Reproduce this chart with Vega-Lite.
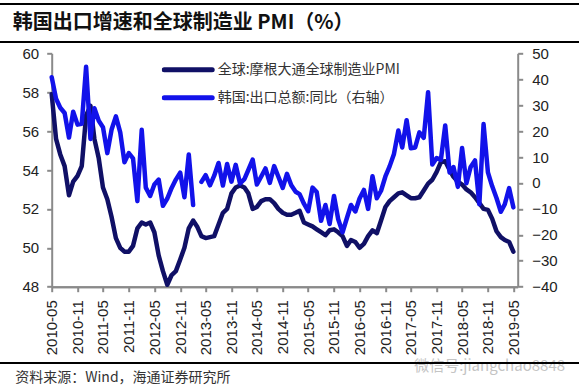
{
  "$schema": "https://vega.github.io/schema/vega-lite/v6.json",
  "width": 466,
  "height": 233.4,
  "autosize": {"type": "none"},
  "padding": {"left": 51.7, "top": 53.3, "right": 61.3, "bottom": 103.3},
  "background": "white",
  "config": {"view": {"stroke": null}, "axis": {"grid": false, "labelFont": "Liberation Sans"}},
  "title": {"text": "韩国出口增速和全球制造业 PMI（%）", "anchor": "start", "frame": "group", "dx": -39, "dy": 30, "offset": 0, "font": "Noto Sans CJK SC", "fontSize": 20, "fontWeight": "bold", "color": "#111111"},
  "data": {"values": [
    {"date": "2010-05-01", "pmi": 57.9, "exp": 40.8},
    {"date": "2010-06-01", "pmi": 55.6, "exp": 32.5},
    {"date": "2010-07-01", "pmi": 54.8, "exp": 29.0},
    {"date": "2010-08-01", "pmi": 54.2, "exp": 27.0},
    {"date": "2010-09-01", "pmi": 52.7, "exp": 17.5},
    {"date": "2010-10-01", "pmi": 53.4, "exp": 27.5},
    {"date": "2010-11-01", "pmi": 53.7, "exp": 22.5},
    {"date": "2010-12-01", "pmi": 54.2, "exp": 22.8},
    {"date": "2011-01-01", "pmi": 56.8, "exp": 44.8},
    {"date": "2011-02-01", "pmi": 57.3, "exp": 17.0},
    {"date": "2011-03-01", "pmi": 55.6, "exp": 28.8},
    {"date": "2011-04-01", "pmi": 54.6, "exp": 24.0},
    {"date": "2011-05-01", "pmi": 53.1, "exp": 21.5},
    {"date": "2011-06-01", "pmi": 52.5, "exp": 11.5},
    {"date": "2011-07-01", "pmi": 51.6, "exp": 20.5},
    {"date": "2011-08-01", "pmi": 50.5, "exp": 25.7},
    {"date": "2011-09-01", "pmi": 50.0, "exp": 19.5},
    {"date": "2011-10-01", "pmi": 49.8, "exp": 8.0},
    {"date": "2011-11-01", "pmi": 49.8, "exp": 11.5},
    {"date": "2011-12-01", "pmi": 50.1, "exp": 9.5},
    {"date": "2012-01-01", "pmi": 51.0, "exp": -7.0},
    {"date": "2012-02-01", "pmi": 51.3, "exp": 20.5},
    {"date": "2012-03-01", "pmi": 51.2, "exp": -1.8},
    {"date": "2012-04-01", "pmi": 51.3, "exp": -5.0},
    {"date": "2012-05-01", "pmi": 50.8, "exp": -0.6},
    {"date": "2012-06-01", "pmi": 49.6, "exp": 1.3},
    {"date": "2012-07-01", "pmi": 48.8, "exp": -8.8},
    {"date": "2012-08-01", "pmi": 48.1, "exp": -6.0},
    {"date": "2012-09-01", "pmi": 48.6, "exp": -1.9},
    {"date": "2012-10-01", "pmi": 48.8, "exp": 1.3},
    {"date": "2012-11-01", "pmi": 49.4, "exp": 4.0},
    {"date": "2012-12-01", "pmi": 50.0, "exp": -5.5},
    {"date": "2013-01-01", "pmi": 51.0, "exp": 11.0},
    {"date": "2013-02-01", "pmi": 51.4, "exp": -8.5},
    {"date": "2013-03-01", "pmi": 51.1, "exp": null},
    {"date": "2013-04-01", "pmi": 50.6, "exp": 0.4},
    {"date": "2013-05-01", "pmi": 50.5, "exp": 3.0},
    {"date": "2013-06-01", "pmi": 50.55, "exp": -0.9},
    {"date": "2013-07-01", "pmi": 50.6, "exp": 2.8},
    {"date": "2013-08-01", "pmi": 51.2, "exp": 7.7},
    {"date": "2013-09-01", "pmi": 51.8, "exp": -1.0},
    {"date": "2013-10-01", "pmi": 52.0, "exp": 7.3},
    {"date": "2013-11-01", "pmi": 52.8, "exp": 0.5},
    {"date": "2013-12-01", "pmi": 53.1, "exp": 7.0},
    {"date": "2014-01-01", "pmi": 53.2, "exp": -0.2},
    {"date": "2014-02-01", "pmi": 53.1, "exp": 1.5},
    {"date": "2014-03-01", "pmi": 52.8, "exp": 5.0},
    {"date": "2014-04-01", "pmi": 52.0, "exp": 9.0},
    {"date": "2014-05-01", "pmi": 52.1, "exp": -0.6},
    {"date": "2014-06-01", "pmi": 52.4, "exp": 2.5},
    {"date": "2014-07-01", "pmi": 52.5, "exp": 5.6},
    {"date": "2014-08-01", "pmi": 52.5, "exp": 0.0},
    {"date": "2014-09-01", "pmi": 52.3, "exp": 6.5},
    {"date": "2014-10-01", "pmi": 52.0, "exp": 2.4},
    {"date": "2014-11-01", "pmi": 51.8, "exp": -1.9},
    {"date": "2014-12-01", "pmi": 51.7, "exp": 3.5},
    {"date": "2015-01-01", "pmi": 51.7, "exp": -0.9},
    {"date": "2015-02-01", "pmi": 51.8, "exp": -3.4},
    {"date": "2015-03-01", "pmi": 51.9, "exp": -4.3},
    {"date": "2015-04-01", "pmi": 51.3, "exp": -8.0},
    {"date": "2015-05-01", "pmi": 51.2, "exp": -10.9},
    {"date": "2015-06-01", "pmi": 51.1, "exp": -1.8},
    {"date": "2015-07-01", "pmi": 50.95, "exp": -3.5},
    {"date": "2015-08-01", "pmi": 50.8, "exp": -14.6},
    {"date": "2015-09-01", "pmi": 50.65, "exp": -8.5},
    {"date": "2015-10-01", "pmi": 50.9, "exp": -15.8},
    {"date": "2015-11-01", "pmi": 50.95, "exp": -5.0},
    {"date": "2015-12-01", "pmi": 50.8, "exp": -14.0},
    {"date": "2016-01-01", "pmi": 50.6, "exp": -19.0},
    {"date": "2016-02-01", "pmi": 50.1, "exp": -13.5},
    {"date": "2016-03-01", "pmi": 50.4, "exp": -8.5},
    {"date": "2016-04-01", "pmi": 50.3, "exp": -11.0},
    {"date": "2016-05-01", "pmi": 50.0, "exp": -6.0},
    {"date": "2016-06-01", "pmi": 50.2, "exp": -2.7},
    {"date": "2016-07-01", "pmi": 50.6, "exp": -10.0},
    {"date": "2016-08-01", "pmi": 50.9, "exp": 2.6},
    {"date": "2016-09-01", "pmi": 50.75, "exp": -5.9},
    {"date": "2016-10-01", "pmi": 51.4, "exp": -3.0},
    {"date": "2016-11-01", "pmi": 52.1, "exp": 2.5},
    {"date": "2016-12-01", "pmi": 52.4, "exp": 6.4},
    {"date": "2017-01-01", "pmi": 52.6, "exp": 11.2},
    {"date": "2017-02-01", "pmi": 52.8, "exp": 20.2},
    {"date": "2017-03-01", "pmi": 52.85, "exp": 13.7},
    {"date": "2017-04-01", "pmi": 52.7, "exp": 24.2},
    {"date": "2017-05-01", "pmi": 52.55, "exp": 13.4},
    {"date": "2017-06-01", "pmi": 52.55, "exp": 13.7},
    {"date": "2017-07-01", "pmi": 52.6, "exp": 19.5},
    {"date": "2017-08-01", "pmi": 52.95, "exp": 17.4},
    {"date": "2017-09-01", "pmi": 53.3, "exp": 35.0},
    {"date": "2017-10-01", "pmi": 53.5, "exp": 7.1},
    {"date": "2017-11-01", "pmi": 53.9, "exp": 9.6},
    {"date": "2017-12-01", "pmi": 54.4, "exp": 8.9},
    {"date": "2018-01-01", "pmi": 54.45, "exp": 22.2},
    {"date": "2018-02-01", "pmi": 54.0, "exp": 4.0},
    {"date": "2018-03-01", "pmi": 53.65, "exp": 6.1},
    {"date": "2018-04-01", "pmi": 53.4, "exp": -1.5},
    {"date": "2018-05-01", "pmi": 53.25, "exp": 13.5},
    {"date": "2018-06-01", "pmi": 53.0, "exp": -0.1},
    {"date": "2018-07-01", "pmi": 52.85, "exp": 6.2},
    {"date": "2018-08-01", "pmi": 52.6, "exp": 8.7},
    {"date": "2018-09-01", "pmi": 52.3, "exp": -8.2},
    {"date": "2018-10-01", "pmi": 52.0, "exp": 22.7},
    {"date": "2018-11-01", "pmi": 51.95, "exp": 4.1},
    {"date": "2018-12-01", "pmi": 51.5, "exp": -1.2},
    {"date": "2019-01-01", "pmi": 50.85, "exp": -5.8},
    {"date": "2019-02-01", "pmi": 50.55, "exp": -11.1},
    {"date": "2019-03-01", "pmi": 50.4, "exp": -8.2},
    {"date": "2019-04-01", "pmi": 50.3, "exp": -2.0},
    {"date": "2019-05-01", "pmi": 49.8, "exp": -9.4}
  ]},
  "layer": [
    {
      "mark": {"type": "line", "strokeWidth": 4.5, "strokeJoin": "round", "strokeCap": "round"},
      "encoding": {
        "x": {
          "field": "date", "type": "temporal",
          "scale": {"type": "utc", "domain": [{"year": 2010, "month": 5, "date": 1, "utc": true}, {"year": 2019, "month": 6, "date": 1, "utc": true}]},
          "axis": {
            "orient": "bottom",
            "values": [
              {"year": 2010, "month": 5, "date": 1, "utc": true}, {"year": 2011, "month": 5, "date": 1, "utc": true},
              {"year": 2012, "month": 5, "date": 1, "utc": true}, {"year": 2013, "month": 5, "date": 1, "utc": true},
              {"year": 2014, "month": 5, "date": 1, "utc": true}, {"year": 2015, "month": 5, "date": 1, "utc": true},
              {"year": 2016, "month": 5, "date": 1, "utc": true}, {"year": 2017, "month": 5, "date": 1, "utc": true},
              {"year": 2018, "month": 5, "date": 1, "utc": true}, {"year": 2019, "month": 5, "date": 1, "utc": true}
            ],
            "format": "%Y-%m", "labelAngle": 270, "labelAlign": "right", "labelBaseline": "middle",
            "labelFontSize": 15, "labelColor": "#222222", "labelPadding": 8, "labelOverlap": false, "labelFlush": false,
            "tickSize": 5, "tickWidth": 2, "tickColor": "#8a8a8a", "domainColor": "#8a8a8a", "domainWidth": 2,
            "title": "资料来源：Wind，海通证券研究所", "titleFont": "Noto Sans CJK SC", "titleFontSize": 14, "titleFontWeight": "normal",
            "titleColor": "#333333", "titleAnchor": "start", "titleAlign": "left", "titleBaseline": "middle", "titleX": -37, "titleY": 91
          }
        },
        "y": {
          "field": "pmi", "type": "quantitative",
          "scale": {"domain": [48, 60], "nice": false, "zero": false},
          "axis": {"orient": "left", "values": [48, 50, 52, 54, 56, 58, 60], "labelFontSize": 15, "labelColor": "#222222", "labelPadding": 8,
                   "tickSize": 5, "tickWidth": 2, "tickColor": "#8a8a8a", "domainColor": "#8a8a8a", "domainWidth": 2, "title": null}
        },
        "color": {
          "datum": "全球:摩根大通全球制造业PMI", "type": "nominal",
          "scale": {"domain": ["全球:摩根大通全球制造业PMI", "韩国:出口总额:同比（右轴）"], "range": ["#101066", "#1212ea"]},
          "legend": {
            "orient": "none", "legendX": 110, "legendY": 9.5, "title": null, "padding": 0,
            "symbolType": "stroke", "symbolSize": 2304, "symbolStrokeWidth": 5, "clipHeight": 14, "rowPadding": 14, "labelOffset": 3,
            "labelFont": "Noto Sans CJK SC", "labelFontSize": 14, "labelColor": "#333333", "labelLimit": 400,
            "encode": {"symbols": {"update": {"strokeCap": {"value": "round"}}}}
          }
        }
      }
    },
    {
      "mark": {"type": "line", "strokeWidth": 4.5, "strokeJoin": "round", "strokeCap": "round", "invalid": "break-paths-show-domains"},
      "encoding": {
        "x": {
          "field": "date", "type": "temporal",
          "axis": {
            "orient": "bottom",
            "values": [
              {"year": 2010, "month": 11, "date": 1, "utc": true}, {"year": 2011, "month": 11, "date": 1, "utc": true},
              {"year": 2012, "month": 11, "date": 1, "utc": true}, {"year": 2013, "month": 11, "date": 1, "utc": true},
              {"year": 2014, "month": 11, "date": 1, "utc": true}, {"year": 2015, "month": 11, "date": 1, "utc": true},
              {"year": 2016, "month": 11, "date": 1, "utc": true}, {"year": 2017, "month": 11, "date": 1, "utc": true},
              {"year": 2018, "month": 11, "date": 1, "utc": true}
            ],
            "format": "%Y-%m", "labelAngle": 270, "labelAlign": "right", "labelBaseline": "middle",
            "labelFontSize": 15, "labelColor": "#222222", "labelPadding": 8, "labelOverlap": false, "labelFlush": false,
            "tickSize": 5, "tickWidth": 2, "tickColor": "#8a8a8a", "domainColor": "#8a8a8a", "domainWidth": 2, "title": null
          }
        },
        "y": {
          "field": "exp", "type": "quantitative",
          "scale": {"domain": [-40, 50], "nice": false, "zero": false},
          "axis": {"orient": "right", "values": [-40, -30, -20, -10, 0, 10, 20, 30, 40, 50], "labelFontSize": 15, "labelColor": "#222222", "labelPadding": 9,
                   "tickSize": 5, "tickWidth": 2, "tickColor": "#8a8a8a", "domainColor": "#8a8a8a", "domainWidth": 2,
                   "title": "微信号:jiangchao8848", "titleAngle": 0, "titleX": -104, "titleY": 312, "titleAlign": "left", "titleBaseline": "middle",
                   "titleColor": "#c4c4c4", "titleFont": "Noto Sans CJK SC", "titleFontSize": 15, "titleFontWeight": "normal"}
        },
        "color": {"datum": "韩国:出口总额:同比（右轴）", "type": "nominal"}
      }
    },
    {
      "mark": {"type": "rule", "color": "#000000", "strokeWidth": 1.5, "clip": false},
      "encoding": {
        "x": {"datum": {"year": 2009, "month": 4, "date": 28, "utc": true}, "type": "temporal", "axis": null},
        "x2": {"datum": {"year": 2020, "month": 8, "date": 10, "utc": true}},
        "y": {"datum": 62.53, "type": "quantitative", "scale": {"domain": [48, 60], "nice": false, "zero": false}, "axis": null}
      }
    },
    {
      "mark": {"type": "rule", "color": "#000000", "strokeWidth": 1.5, "clip": false},
      "encoding": {
        "x": {"datum": {"year": 2009, "month": 4, "date": 28, "utc": true}, "type": "temporal", "axis": null},
        "x2": {"datum": {"year": 2020, "month": 8, "date": 10, "utc": true}},
        "y": {"datum": 60.58, "type": "quantitative", "scale": {"domain": [48, 60], "nice": false, "zero": false}, "axis": null}
      }
    },
    {
      "mark": {"type": "rule", "color": "#000000", "strokeWidth": 1.2, "clip": false},
      "encoding": {
        "x": {"datum": {"year": 2009, "month": 4, "date": 28, "utc": true}, "type": "temporal", "axis": null},
        "x2": {"datum": {"year": 2020, "month": 8, "date": 10, "utc": true}},
        "y": {"datum": 44.1, "type": "quantitative", "scale": {"domain": [48, 60], "nice": false, "zero": false}, "axis": null}
      }
    }
  ],
  "resolve": {"scale": {"y": "independent"}, "axis": {"x": "independent"}}
}
